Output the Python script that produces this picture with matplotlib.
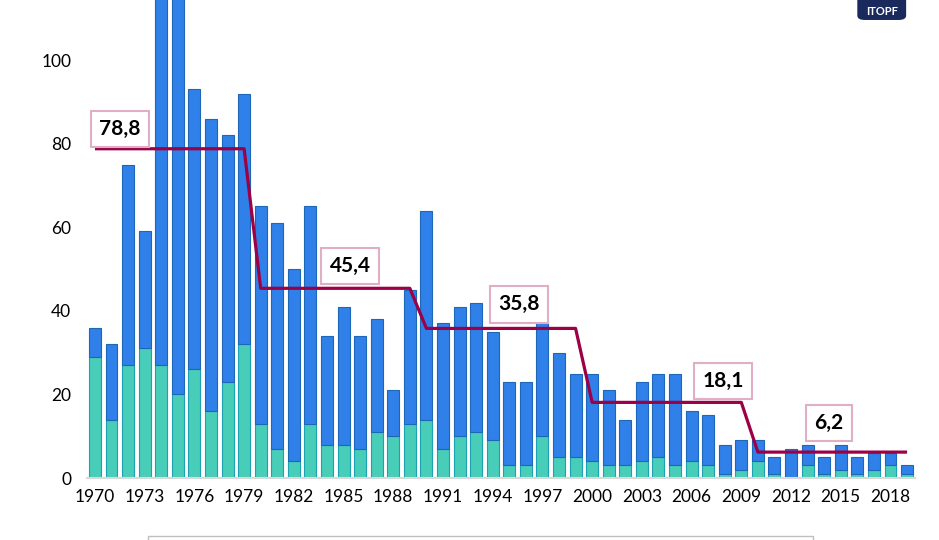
import matplotlib.pyplot as plt
import numpy as np
from matplotlib.patches import FancyBboxPatch, Rectangle

plt.rcParams['font.family'] = ['Lato', 'DejaVu Sans']

# data: oil spills per year (large >700t at the bottom, medium 7-700t on top)
years = list(range(1970, 2020))
large = [29, 14, 27, 31, 27, 20, 26, 16, 23, 32,
         13, 7, 4, 13, 8, 8, 7, 11, 10, 13,
         14, 7, 10, 11, 9, 3, 3, 10, 5, 5,
         4, 3, 3, 4, 5, 3, 4, 3, 1, 2,
         4, 1, 0, 3, 1, 2, 1, 2, 3, 1]
medium = [7, 18, 48, 28, 90, 96, 67, 70, 59, 60,
          52, 54, 46, 52, 26, 33, 27, 27, 11, 32,
          50, 30, 31, 31, 26, 20, 20, 28, 25, 20,
          21, 18, 11, 19, 20, 22, 12, 12, 7, 7,
          5, 4, 7, 5, 4, 6, 4, 4, 3, 2]
decade_starts = [1970, 1980, 1990, 2000, 2010]
decade_avg = [78.8, 45.4, 35.8, 18.1, 6.2]
avg_labels = ['78,8', '45,4', '35,8', '18,1', '6,2']

blue = '#2F80E8'
teal = '#48CDB8'
line_col = '#9C0046'

fig = plt.figure(figsize=(9.39, 5.4), dpi=100)
ax = fig.add_axes([0.0923, 0.1148, 0.8825, 0.8852])

x = np.array(years)
ax.bar(x, large, width=0.72, color=teal, edgecolor='#1BA3B3', linewidth=0.8, zorder=2)
ax.bar(x, medium, width=0.72, bottom=large, color=blue, edgecolor='#1D66B8',
       linewidth=0.8, zorder=2)

# step line of decade averages
line_x, line_y = [], []
for start, avg in zip(decade_starts, decade_avg):
    line_x += [start, start + 9]
    line_y += [avg, avg]
ax.plot(line_x, line_y, color=line_col, lw=2.3, zorder=3, solid_capstyle='butt')

label_pos = [(1971.5, 83.5), (1985.4, 50.7), (1995.6, 41.6), (2007.9, 23.2), (2014.3, 13.2)]
for (lx, ly), txt in zip(label_pos, avg_labels):
    ax.text(lx, ly, txt, ha='center', va='center', fontsize=15, fontweight='bold',
            color='black', zorder=4,
            bbox=dict(boxstyle='square,pad=0.4', facecolor='white',
                      edgecolor='#E0AFC6', linewidth=1.5))

ax.set_xlim(1969.5, 2019.5)
ax.set_ylim(0, 114.4)
ax.set_xticks(years[::3])
ax.set_yticks([0, 20, 40, 60, 80, 100])
ax.tick_params(axis='both', length=0, labelsize=12.5, colors='black')
ax.tick_params(axis='y', pad=11)
ax.tick_params(axis='x', pad=8)
for s in ['top', 'right', 'left']:
    ax.spines[s].set_visible(False)
ax.spines['bottom'].set_color('#D9D9D9')
ax.spines['bottom'].set_linewidth(1.5)

# legend frame, cut off at the bottom of the picture
fig.patches.append(Rectangle((0.158, -0.05), 0.708, 0.0574, transform=fig.transFigure,
                             facecolor='white', edgecolor='#BFBFBF', linewidth=1))

# ITOPF logo
fig.patches.append(FancyBboxPatch((0.913, 0.963), 0.052, 0.06, transform=fig.transFigure,
                                  boxstyle='round,pad=0,rounding_size=0.008',
                                  facecolor='#1B2A5C', edgecolor='none'))
fig.text(0.939, 0.979, 'ITOPF', ha='center', va='center', color='white',
         fontsize=8, fontweight='bold')

fig.savefig('out.png', dpi=100, facecolor='white')
